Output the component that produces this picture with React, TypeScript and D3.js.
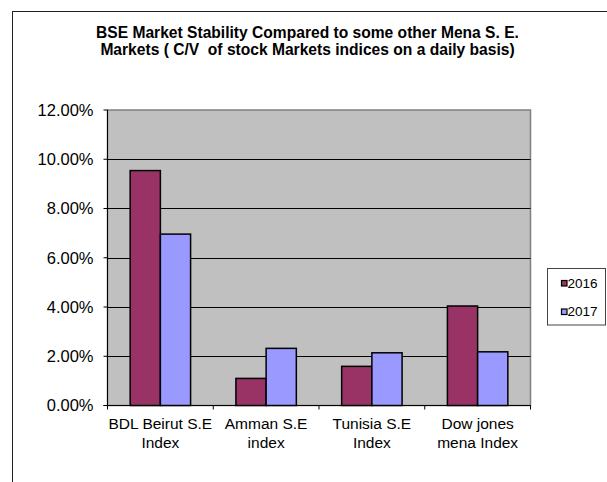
import * as d3 from 'd3'

const categories = [
  ['BDL Beirut S.E', 'Index'],
  ['Amman S.E', 'index'],
  ['Tunisia S.E', 'Index'],
  ['Dow jones', 'mena Index'],
]
const years = ['2016', '2017']
const values2016 = [0.0954, 0.011, 0.0159, 0.0404]
const values2017 = [0.0696, 0.0232, 0.0214, 0.0218]
const yTicks = [0, 0.02, 0.04, 0.06, 0.08, 0.1, 0.12]
const titleLines = [
  'BSE Market Stability Compared to some other Mena S. E.',
  'Markets ( C/V  of stock Markets indices on a daily basis)',
]

const colors = ['#993366', '#9999FF']
const font = '"Liberation Sans", Arial, sans-serif'

export default function App() {
  const width = 607
  const height = 482
  const plot = { left: 107.5, right: 530.5, top: 110, bottom: 405.5 }

  const x = d3.scaleBand<number>()
    .domain(d3.range(categories.length))
    .range([plot.left, plot.right])
  const y = d3.scaleLinear().domain([0, 0.12]).range([plot.bottom, plot.top])
  const fmt = d3.format('.2%')

  const barW = x.bandwidth() / 3.5
  const series = [values2016, values2017]

  return (
    <svg width={width} height={height} style={{ position: 'absolute', left: 0, top: 0 }} fontFamily={font}>
      <rect x={0} y={0} width={width} height={height} fill="#fff" />
      <rect x={12.5} y={11.5} width={640} height={520} fill="none" stroke="#222" strokeWidth={1} />

      {titleLines.map((t, i) => (
        <text key={i} x={307.5} y={37.5 + i * 17.7} textAnchor="middle" fontSize={15.6} fontWeight="bold" fill="#000"
          style={{ whiteSpace: 'pre' }}>
          {t}
        </text>
      ))}

      <rect x={plot.left} y={plot.top} width={plot.right - plot.left} height={plot.bottom - plot.top}
        fill="#C0C0C0" stroke="#808080" strokeWidth={1.5} />

      {yTicks.slice(1, -1).map(t => (
        <line key={t} x1={plot.left} x2={plot.right} y1={Math.round(y(t)) + 0.5} y2={Math.round(y(t)) + 0.5} stroke="#000" strokeWidth={1} />
      ))}

      {series.map((vals, s) =>
        vals.map((v, i) => (
          <rect key={`${s}-${i}`}
            x={(x(i) as number) + barW * 0.75 + s * barW}
            y={y(v)}
            width={barW}
            height={plot.bottom - y(v)}
            fill={colors[s]} stroke="#000" strokeWidth={1.5} />
        ))
      )}

      {/* axes */}
      <line x1={plot.left} x2={plot.left} y1={plot.top} y2={plot.bottom} stroke="#000" strokeWidth={1} />
      <line x1={plot.left - 4} x2={plot.right} y1={plot.bottom} y2={plot.bottom} stroke="#000" strokeWidth={1} />
      {yTicks.map(t => (
        <g key={t}>
          <line x1={plot.left - 4} x2={plot.left} y1={y(t)} y2={y(t)} stroke="#000" />
          <text x={93.5} y={y(t)} dy="0.35em" textAnchor="end" fontSize={16.5} fill="#000">{fmt(t)}</text>
        </g>
      ))}
      {d3.range(categories.length + 1).map(i => {
        const xx = i < categories.length ? (x(i) as number) : plot.right
        return <line key={i} x1={xx} x2={xx} y1={plot.bottom} y2={plot.bottom + 4} stroke="#000" />
      })}
      {categories.map((lines, i) => (
        <text key={i} x={(x(i) as number) + x.bandwidth() / 2} textAnchor="middle" fontSize={15.5} fill="#000">
          {lines.map((l, j) => (
            <tspan key={j} x={(x(i) as number) + x.bandwidth() / 2} y={428.5 + j * 19}>{l}</tspan>
          ))}
        </text>
      ))}

      {/* legend */}
      <rect x={547.5} y={268.5} width={58} height={56.5} fill="#fff" stroke="#444" strokeWidth={1} />
      {years.map((yr, i) => (
        <g key={yr} transform={`translate(561, ${283 + i * 28.5})`}>
          <rect x={0.5} y={-2.5} width={5.5} height={5.5} fill={colors[i]} stroke="#000" strokeWidth={1.2} />
          <text x={6.5} y={0} dy="0.36em" fontSize={13.5} fill="#000">{yr}</text>
        </g>
      ))}
    </svg>
  )
}
